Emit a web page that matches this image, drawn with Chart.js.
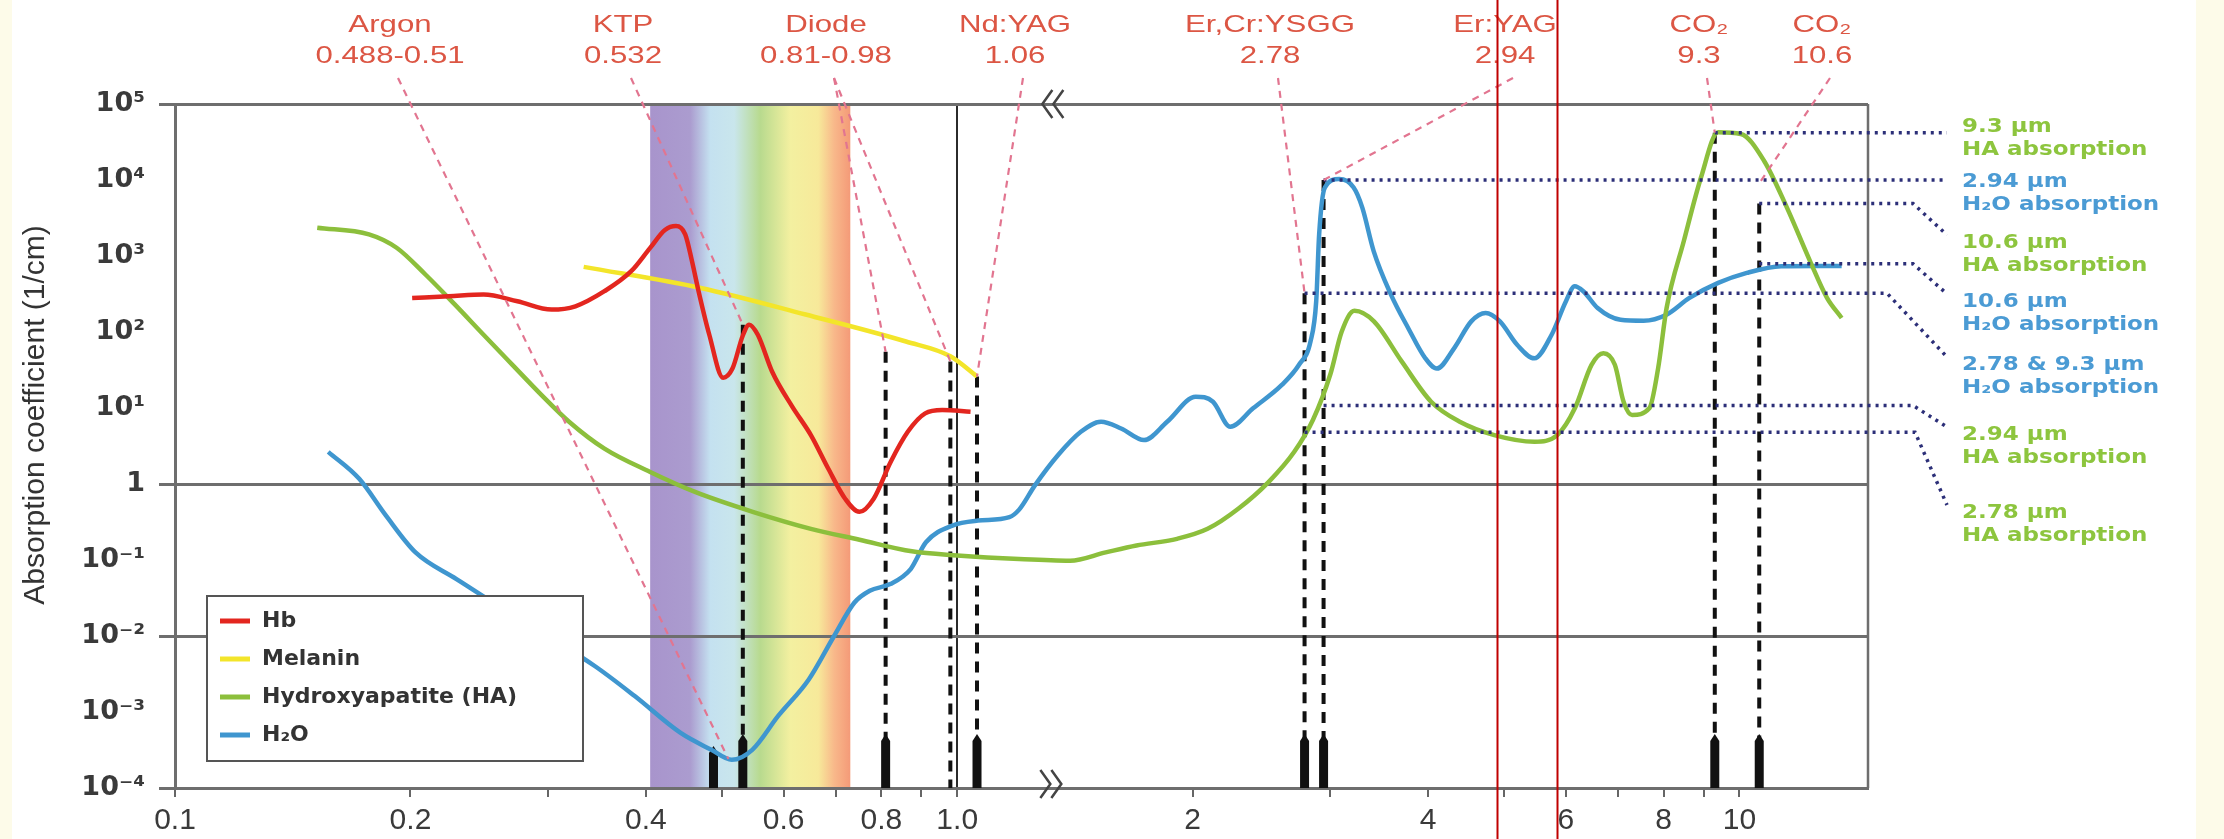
<!DOCTYPE html>
<html>
<head>
<meta charset="utf-8">
<script src="https://cdn.jsdelivr.net/npm/chart.js@4.4.1/dist/chart.umd.min.js"></script>
<style>
  html, body { margin: 0; padding: 0; background: #fdfbe9; }
  #wrap { width: 2224px; height: 839px; }
</style>
</head>
<body>
<div id="wrap"><canvas id="absorptionChart" width="2224" height="839"></canvas></div>
<script>
const Y_TITLE = "Absorption coefficient (1/cm)";

// axes
const X_MIN = 0.1;
const X_MAX = 14.6;
const X_TICKS = [0.1, 0.2, 0.3, 0.4, 0.5, 0.6, 0.7, 0.8, 0.9, 1, 2, 3, 4, 5, 6, 7, 8, 9, 10];
const X_TICK_LABELS = ["0.1", "0.2", "", "0.4", "", "0.6", "", "0.8", "", "1.0", "2", "", "4", "", "6", "", "8", "", "10"];
const Y_TICKS = [1e-4, 1e-3, 1e-2, 1e-1, 1, 10, 100, 1e3, 1e4, 1e5];
const Y_TICK_LABELS = ["10⁻⁴", "10⁻³", "10⁻²", "10⁻¹", "1", "10¹", "10²", "10³", "10⁴", "10⁵"];
const Y_LINES = [1e-4, 1e-2, 1, 1e5];

// absorption curves, wavelength in µm
const HB_WL = [0.201, 0.224, 0.248, 0.274, 0.303, 0.325, 0.354, 0.383, 0.405, 0.423, 0.437, 0.449, 0.458, 0.467, 0.482, 0.502, 0.516, 0.532, 0.542, 0.556, 0.58, 0.615, 0.65, 0.684, 0.719, 0.75, 0.782, 0.822, 0.865, 0.91, 0.957, 1.04];
const HB_ABS = [280, 295, 311, 254, 197, 218, 344, 631, 1280, 2200, 2480, 1930, 860, 344, 92, 25, 33, 90, 125, 92, 30, 10.5, 4.4, 1.6, 0.64, 0.43, 0.64, 1.95, 4.9, 8.5, 9.4, 8.9];

const MELANIN_WL = [0.333, 0.47, 0.64, 0.86, 0.98, 1.06];
const MELANIN_ABS = [720, 380, 170, 75, 48, 26];

const HA_WL = [0.152, 0.177, 0.192, 0.209, 0.228, 0.248, 0.27, 0.294, 0.319, 0.354, 0.405, 0.463, 0.549, 0.65, 0.75, 0.875, 1.0, 1.2, 1.394, 1.548, 1.695, 1.91, 2.09, 2.287, 2.5, 2.697, 2.85, 3.0, 3.1, 3.22, 3.41, 3.7, 4.035, 4.39, 4.86, 5.47, 5.85, 6.16, 6.47, 6.7, 6.93, 7.11, 7.29, 7.67, 7.87, 8.07, 8.49, 8.93, 9.39, 10.04, 10.75, 11.5, 12.31, 12.94, 13.51];
const HA_ABS = [2360, 1930, 1285, 571, 229, 92, 37, 14.9, 6.6, 2.92, 1.44, 0.78, 0.427, 0.257, 0.185, 0.13, 0.115, 0.103, 0.098, 0.126, 0.155, 0.19, 0.257, 0.472, 1.06, 2.65, 7, 28, 100, 190, 138, 41, 12.1, 6.6, 4.4, 3.6, 4.4, 9.9, 37, 52.6, 37, 12.1, 8.1, 9.9, 33, 207, 1574, 10790, 42400, 40360, 17950, 4335, 857, 281, 153];

const H2O_WL = [0.157, 0.172, 0.186, 0.203, 0.229, 0.251, 0.344, 0.387, 0.443, 0.485, 0.515, 0.547, 0.59, 0.646, 0.696, 0.739, 0.773, 0.821, 0.872, 0.912, 0.986, 1.063, 1.166, 1.2, 1.257, 1.345, 1.439, 1.527, 1.62, 1.733, 1.855, 2.018, 2.123, 2.234, 2.389, 2.6, 2.735, 2.829, 2.877, 2.902, 2.951, 3.078, 3.212, 3.295, 3.407, 3.585, 3.771, 3.967, 4.104, 4.317, 4.541, 4.738, 4.941, 5.197, 5.468, 5.753, 6.001, 6.157, 6.315, 6.587, 7.047, 7.542, 8.067, 8.632, 9.393, 10.22, 11.31, 12.52, 13.51];
const H2O_ABS = [2.65, 1.17, 0.386, 0.126, 0.0561, 0.0305, 0.00403, 0.00162, 0.00053, 0.000318, 0.000235, 0.000318, 0.00088, 0.00268, 0.01, 0.0276, 0.0394, 0.0482, 0.076, 0.171, 0.284, 0.33, 0.367, 0.46, 0.96, 2.39, 4.86, 6.6, 5.38, 3.78, 6.59, 14.1, 12.1, 5.66, 9.9, 20.1, 37, 75, 254, 1928, 7960, 10280, 7960, 4335, 1161, 311, 113, 45, 33, 61, 138, 178, 138, 68, 45, 92, 254, 400, 344, 207, 145, 141, 169, 281, 443, 600, 735, 740, 740];

// visible light band
const SPECTRUM = [0.405, 0.73];

// red range markers drawn over the figure
const RANGE_MARKS = [4.9, 5.85];

// lasers: label on top, dashed marker down to the axis
const LASER_NAMES = ["Argon", "KTP", "Diode", "Nd:YAG", "Er,Cr:YSGG", "Er:YAG", "CO₂", "CO₂"];
const LASER_RANGES = ["0.488-0.51", "0.532", "0.81-0.98", "1.06", "2.78", "2.94", "9.3", "10.6"];
const MARK_WL = [0.532, 0.81, 0.98, 1.06, 2.78, 2.94, 9.3, 10.6];
const MARK_TOP = [125, 55, 41, 26, 324, 10000, 42000, 4900];
const BAR_WL = [0.488, 0.532, 0.81, 1.06, 2.78, 2.94, 9.3, 10.6];
const LEADER_WL = [[0.51], [0.532], [0.81, 0.98], [1.06], [2.78], [2.94], [9.3], [10.6]];
const LEADER_ABS = [[2.4e-4], [125], [55, 41], [26], [324], [10000], [42000], [9000]];

// absorption read-outs on the right
const NOTE_WL = [9.3, 2.94, 10.6, 10.6, 2.78, 2.94, 2.78];
const NOTE_ABS = [42000, 10000, 4900, 790, 324, 10.8, 4.8];
const NOTE_SERIES = ["HA", "H2O", "HA", "H2O", "H2O", "HA", "HA"];
const NOTE_TEXT = [
  ["9.3 µm", "HA absorption"],
  ["2.94 µm", "H₂O absorption"],
  ["10.6 µm", "HA absorption"],
  ["10.6 µm", "H₂O absorption"],
  ["2.78 & 9.3 µm", "H₂O absorption"],
  ["2.94 µm", "HA absorption"],
  ["2.78 µm", "HA absorption"],
];

const RED = "#e3261f";
const YELLOW = "#f3e52a";
const GREEN = "#8cbf3c";
const BLUE = "#3f96cf";
const FRAME = "#6e6e6e";

const toPoints = (wl, abs) => wl.map((w, i) => ({ x: w, y: abs[i] }));

// label placement (pixels)
const LABEL_X = [390, 623, 826, 1015, 1270, 1505, 1699, 1822];
const NOTE_TEXT_Y = [127, 182, 243, 302, 365, 435, 513];
const NOTE_BEND = [0, 0, 45, 45, 19, 45, 47];

function wideText(ctx, text, x, y, sx, align) {
  ctx.save();
  ctx.translate(x, y);
  ctx.scale(sx, 1);
  ctx.textAlign = align || "center";
  ctx.textBaseline = "middle";
  ctx.fillText(text, 0, 0);
  ctx.restore();
}

const decorations = {
  id: "decorations",
  beforeDraw(chart) {
    const { ctx, chartArea: a, scales: { x } } = chart;
    ctx.save();
    ctx.fillStyle = "#fdfbe9";
    ctx.fillRect(0, 0, chart.width, chart.height);
    ctx.fillStyle = "#ffffff";
    ctx.fillRect(12, 0, 2184, chart.height);

    const x0 = x.getPixelForValue(SPECTRUM[0]);
    const x1 = x.getPixelForValue(SPECTRUM[1]);
    const g = ctx.createLinearGradient(x0, 0, x1, 0);
    g.addColorStop(0, "#a894cc");
    g.addColorStop(0.2, "#ab9ccf");
    g.addColorStop(0.3, "#c4e1f0");
    g.addColorStop(0.42, "#c9e6ec");
    g.addColorStop(0.55, "#b8da8e");
    g.addColorStop(0.7, "#f3f0a0");
    g.addColorStop(0.84, "#f7e99a");
    g.addColorStop(0.92, "#f8b88a");
    g.addColorStop(1, "#f49a78");
    ctx.fillStyle = g;
    ctx.fillRect(x0, a.top, x1 - x0, a.bottom - a.top);
    ctx.restore();
  },
  beforeDatasetsDraw(chart) {
    const { ctx, chartArea: a, scales: { x, y } } = chart;
    ctx.save();
    // right frame
    ctx.strokeStyle = FRAME;
    ctx.lineWidth = 2.5;
    ctx.beginPath();
    ctx.moveTo(a.right, a.top);
    ctx.lineTo(a.right, a.bottom);
    ctx.stroke();

    // laser markers
    ctx.strokeStyle = "#111";
    ctx.lineWidth = 4;
    ctx.setLineDash([11, 8]);
    MARK_WL.forEach((w, i) => {
      const px = x.getPixelForValue(w);
      ctx.beginPath();
      ctx.moveTo(px, y.getPixelForValue(MARK_TOP[i]));
      ctx.lineTo(px, a.bottom);
      ctx.stroke();
    });
    ctx.setLineDash([]);
    ctx.fillStyle = "#111";
    BAR_WL.forEach((w, i) => {
      const px = x.getPixelForValue(w);
      const h = i === 0 ? 42 : 54;
      ctx.beginPath();
      ctx.moveTo(px - 4.5, a.bottom);
      ctx.lineTo(px - 4.5, a.bottom - h + 7);
      ctx.lineTo(px, a.bottom - h);
      ctx.lineTo(px + 4.5, a.bottom - h + 7);
      ctx.lineTo(px + 4.5, a.bottom);
      ctx.closePath();
      ctx.fill();
    });
    ctx.restore();
  },
  afterDatasetsDraw(chart) {
    const { ctx, chartArea: a, scales: { x, y } } = chart;
    ctx.save();

    // dotted read-out lines
    ctx.strokeStyle = "#2c2f78";
    ctx.lineWidth = 3.5;
    ctx.setLineDash([3, 5]);
    NOTE_WL.forEach((w, i) => {
      const py = y.getPixelForValue(NOTE_ABS[i]);
      const end = a.right + 79;
      ctx.beginPath();
      ctx.moveTo(x.getPixelForValue(w), py);
      if (NOTE_BEND[i]) {
        ctx.lineTo(a.right + NOTE_BEND[i], py);
        ctx.lineTo(end, NOTE_TEXT_Y[i] - 8);
      } else {
        ctx.lineTo(end, py);
      }
      ctx.stroke();
    });

    // read-out texts
    ctx.setLineDash([]);
    ctx.font = "bold 20px 'DejaVu Sans'";
    NOTE_TEXT.forEach((lines, i) => {
      ctx.fillStyle = NOTE_SERIES[i] === "HA" ? "#8dc53e" : "#4b9bd4";
      wideText(ctx, lines[0], a.right + 94, NOTE_TEXT_Y[i], 1.15, "left");
      wideText(ctx, lines[1], a.right + 94, NOTE_TEXT_Y[i] + 23, 1.15, "left");
    });

    // leader lines from the laser labels
    ctx.strokeStyle = "#e27590";
    ctx.lineWidth = 2.2;
    ctx.setLineDash([7, 6]);
    LEADER_WL.forEach((ws, i) => {
      ws.forEach((w, j) => {
        ctx.beginPath();
        ctx.moveTo(LABEL_X[i] + 8, 78);
        ctx.lineTo(x.getPixelForValue(w), y.getPixelForValue(LEADER_ABS[i][j]));
        ctx.stroke();
      });
    });
    ctx.setLineDash([]);

    // laser labels
    ctx.fillStyle = "#dc5644";
    ctx.font = "24px 'Liberation Sans'";
    LASER_NAMES.forEach((name, i) => {
      wideText(ctx, name, LABEL_X[i], 25, 1.3);
      wideText(ctx, LASER_RANGES[i], LABEL_X[i], 56, 1.3);
    });

    // axis break marks
    const bx = x.getPixelForValue(1.3);
    ctx.strokeStyle = "#444";
    ctx.lineWidth = 2.5;
    [0, 11].forEach(dx => {
      ctx.beginPath();
      ctx.moveTo(bx + dx + 6, a.top - 14);
      ctx.lineTo(bx + dx - 4, a.top);
      ctx.lineTo(bx + dx + 6, a.top + 14);
      ctx.stroke();
      ctx.beginPath();
      ctx.moveTo(bx + dx - 6, a.bottom - 18);
      ctx.lineTo(bx + dx + 4, a.bottom - 4);
      ctx.lineTo(bx + dx - 6, a.bottom + 10);
      ctx.stroke();
    });

    // legend
    ctx.fillStyle = "#ffffff";
    ctx.fillRect(207, 596, 376, 165);
    ctx.strokeStyle = "#555";
    ctx.lineWidth = 2;
    ctx.strokeRect(207, 596, 376, 165);
    ctx.font = "bold 22px 'DejaVu Sans'";
    chart.data.datasets.forEach((ds, i) => {
      const ly = 621 + i * 38;
      ctx.strokeStyle = ds.borderColor;
      ctx.lineWidth = 5;
      ctx.beginPath();
      ctx.moveTo(220, ly);
      ctx.lineTo(250, ly);
      ctx.stroke();
      ctx.fillStyle = "#333";
      wideText(ctx, ds.label, 262, ly, 1.0, "left");
    });

    // y axis title
    ctx.fillStyle = "#333";
    ctx.font = "30px 'Liberation Sans'";
    ctx.translate(36, 415);
    ctx.rotate(-Math.PI / 2);
    ctx.textAlign = "center";
    ctx.textBaseline = "middle";
    ctx.fillText(Y_TITLE, 0, 0);
    ctx.restore();
  },
  afterDraw(chart) {
    const { ctx, scales: { x } } = chart;
    ctx.save();
    ctx.strokeStyle = "#c00000";
    ctx.lineWidth = 2;
    RANGE_MARKS.forEach(w => {
      const px = Math.round(x.getPixelForValue(w)) + 0.5;
      ctx.beginPath();
      ctx.moveTo(px, 0);
      ctx.lineTo(px, chart.height);
      ctx.stroke();
    });
    ctx.restore();
  }
};

const ctx = document.getElementById("absorptionChart").getContext("2d");

new Chart(ctx, {
  type: "line",
  data: {
    datasets: [
      { label: "Hb", data: toPoints(HB_WL, HB_ABS), borderColor: RED },
      { label: "Melanin", data: toPoints(MELANIN_WL, MELANIN_ABS), borderColor: YELLOW },
      { label: "Hydroxyapatite (HA)", data: toPoints(HA_WL, HA_ABS), borderColor: GREEN },
      { label: "H₂O", data: toPoints(H2O_WL, H2O_ABS), borderColor: BLUE },
    ],
  },
  options: {
    responsive: false,
    animation: false,
    devicePixelRatio: 1,
    elements: {
      point: { radius: 0 },
      line: { borderWidth: 4.5, cubicInterpolationMode: "monotone", fill: false },
    },
    layout: { padding: { top: 104, right: 356, left: 0, bottom: 0 } },
    plugins: { legend: { display: false }, tooltip: { enabled: false } },
    scales: {
      x: {
        type: "logarithmic",
        min: X_MIN,
        max: X_MAX,
        bounds: "data",
        afterBuildTicks: s => { s.ticks = X_TICKS.map(v => ({ value: v })); },
        afterFit: s => { s.height = 51; },
        ticks: {
          autoSkip: false,
          maxRotation: 0,
          padding: 6,
          color: "#3a3a3a",
          font: { family: "'Liberation Sans'", size: 30 },
          callback: (v, i) => X_TICK_LABELS[i],
        },
        grid: {
          color: c => (c.tick && c.tick.value === 1 ? "#2b2b2b" : "rgba(0,0,0,0)"),
          lineWidth: 2,
          tickColor: "#666",
          tickWidth: 2,
          tickLength: 9,
        },
        border: { color: FRAME, width: 3 },
      },
      y: {
        type: "logarithmic",
        min: 1e-4,
        max: 1e5,
        bounds: "data",
        afterBuildTicks: s => { s.ticks = Y_TICKS.map(v => ({ value: v })); },
        afterFit: s => { s.width = 175; },
        ticks: {
          autoSkip: false,
          padding: 14,
          color: "#3a3a3a",
          font: { family: "'DejaVu Sans'", size: 27, weight: "bold" },
          callback: (v, i) => Y_TICK_LABELS[i],
        },
        grid: {
          color: c => (c.tick && Y_LINES.includes(c.tick.value) ? FRAME : "rgba(0,0,0,0)"),
          lineWidth: 3,
          tickColor: c => (c.tick && Y_LINES.includes(c.tick.value) ? FRAME : "rgba(0,0,0,0)"),
          tickLength: 16,
        },
        border: { color: FRAME, width: 3 },
      },
    },
  },
  plugins: [decorations],
});
</script>
</body>
</html>
